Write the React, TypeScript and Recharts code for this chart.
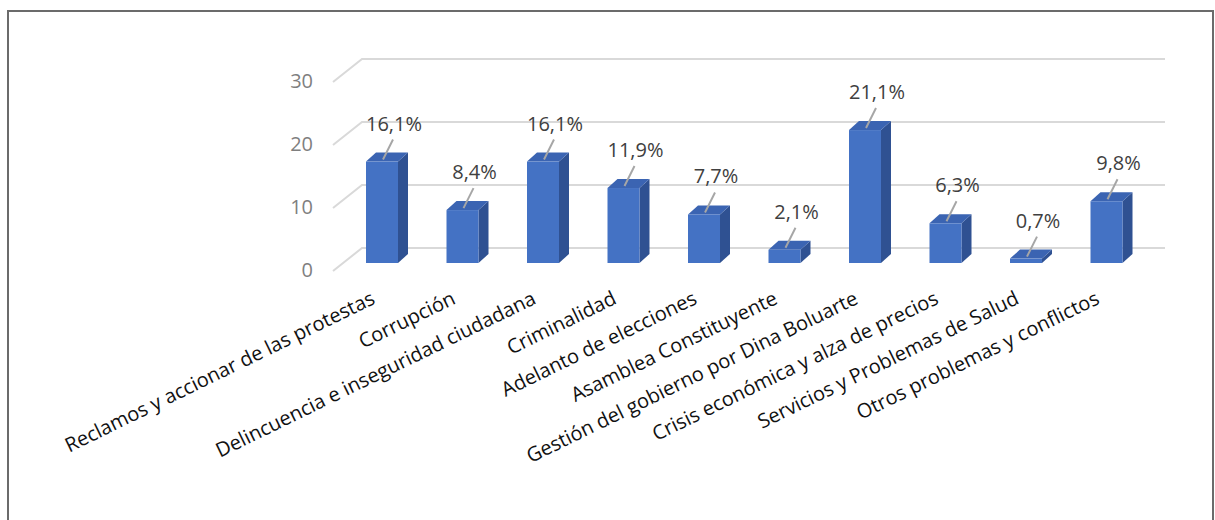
import React from "react";
import { BarChart, Bar, XAxis, YAxis, CartesianGrid, LabelList } from "recharts";

const categories = [
  "Reclamos y accionar de las protestas",
  "Corrupción",
  "Delincuencia e inseguridad ciudadana",
  "Criminalidad",
  "Adelanto de elecciones",
  "Asamblea Constituyente",
  "Gestión del gobierno por Dina Boluarte",
  "Crisis económica y alza de precios",
  "Servicios y Problemas de Salud",
  "Otros problemas y conflictos",
];
const values = [16.1, 8.4, 16.1, 11.9, 7.7, 2.1, 21.1, 6.3, 0.7, 9.8];
const yTicks = [0, 10, 20, 30];

const data = categories.map((name, i) => ({ name, value: values[i] }));

const FONT = "'Open Sans', sans-serif";
const DEPTH_X = 10;
const DEPTH_Y = -9;

// excel-ish 3d column: side, top, then front face
const Bar3D = (props: any) => {
  const { x, y, width: w, height: h } = props;
  if (w == null || h == null) return null;
  const side = `${x + w},${y} ${x + w + DEPTH_X},${y + DEPTH_Y} ${x + w + DEPTH_X},${y + h + DEPTH_Y} ${x + w},${y + h}`;
  const top = `${x},${y} ${x + DEPTH_X},${y + DEPTH_Y} ${x + w + DEPTH_X},${y + DEPTH_Y} ${x + w},${y}`;
  return (
    <g>
      <polygon points={side} fill="#2f5192" />
      <polygon points={top} fill="#3b64b2" />
      <rect x={x} y={y} width={w} height={h} fill="#4472c4" />
    </g>
  );
};

// gridline drawn on the back wall with a diagonal floor edge toward the labels
const GridLine = (props: any) => {
  const { x1, x2, y1 } = props;
  const d = `M${x1 - 9},${y1 + 8} L${x1 + 20},${y1 - 15} L${x2 + 18},${y1 - 15}`;
  return <path key={props.key} d={d} fill="none" stroke="#d9d9d9" strokeWidth={2} />;
};

const YTick = (props: any) => {
  const { y, payload } = props;
  return (
    <text x={313} y={y + 7} dy="0.35em" textAnchor="end" fontFamily={FONT} fontSize={20} fill="#7f7f7f">
      {payload.value}
    </text>
  );
};

const XTick = (props: any) => {
  const { x, y, payload } = props;
  const tx = x - 6;
  const ty = y + 32;
  return (
    <text x={tx} y={ty} textAnchor="end" transform={`rotate(-26 ${tx} ${ty})`} fontFamily={FONT} fontSize={20} fill="#111">
      {payload.value}
    </text>
  );
};

const ValueLabel = (props: any) => {
  const { x, y, width, value } = props;
  const cx = x + width / 2;
  return (
    <g>
      <line x1={cx + 11} y1={y - 22} x2={cx + 1} y2={y - 2} stroke="#a6a6a6" strokeWidth={2} />
      <text x={cx + 12} y={y - 38} dy="0.35em" textAnchor="middle" fontFamily={FONT} fontSize={20} fill="#404040">
        {value.toFixed(1).replace(".", ",") + "%"}
      </text>
    </g>
  );
};

export default function App() {
  return (
    <div style={{ position: "absolute", left: 0, top: 0, width: 1215, height: 520, background: "#fff", overflow: "hidden" }}>
      <BarChart
        width={1215}
        height={520}
        data={data}
        margin={{ top: 74, right: 68, left: 0, bottom: 57 }}
      >
        <CartesianGrid vertical={false} horizontal={GridLine} />
        <YAxis
          width={342}
          domain={[0, 30]}
          ticks={yTicks}
          axisLine={false}
          tickLine={false}
          tick={YTick}
        />
        <XAxis
          dataKey="name"
          interval={0}
          height={200}
          axisLine={false}
          tickLine={false}
          tick={XTick}
        />
        <Bar dataKey="value" barSize={32} shape={Bar3D} isAnimationActive={false}>
          <LabelList dataKey="value" content={ValueLabel} />
        </Bar>
      </BarChart>
      <div
        style={{
          position: "absolute",
          left: 7,
          top: 10,
          width: 1207,
          height: 530,
          boxSizing: "border-box",
          borderTop: "2px solid #6b6b6b",
          borderLeft: "2px solid #6b6b6b",
          borderRight: "2px solid #6b6b6b",
          pointerEvents: "none",
        }}
      />
    </div>
  );
}
